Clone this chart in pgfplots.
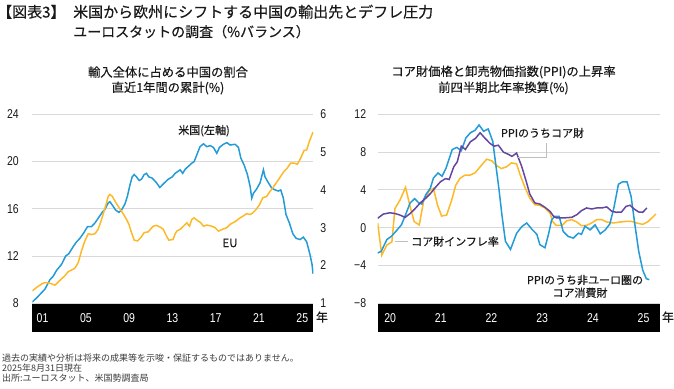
\documentclass[border=0pt]{standalone}
\usepackage{fontspec}
\usepackage{pgfplots}
\pgfplotsset{compat=1.18}
\setmainfont{Liberation Sans}
\newfontfamily\jp{Noto Sans CJK JP}
\newfontfamily\jpm[FakeBold=0.3]{Noto Sans CJK JP}
\newfontfamily\narrow[FakeStretch=0.82]{Liberation Sans}
\definecolor{cblue}{RGB}{35,155,215}
\definecolor{corange}{RGB}{252,185,40}
\definecolor{cpurple}{RGB}{100,70,160}
\definecolor{gridc}{RGB}{217,217,217}
\definecolor{leadc}{RGB}{190,190,190}
\definecolor{txt}{RGB}{25,25,25}
\pgfplotsset{
  myax/.style={
    scale only axis, anchor=south west, height=189pt,
    axis line style={draw=none}, tick style={draw=none},
    ticklabel style={font=\narrow\fontsize{12.8}{13}\selectfont, text=txt},
    xticklabel style={text=white, anchor=center, yshift=-14.5pt},
  }
}
\begin{document}
\begin{tikzpicture}
\useasboundingbox (0pt,0pt) rectangle (674pt,388pt);
\fill[black] (32.3pt,84.7pt) rectangle (313.3pt,56.3pt);
\fill[black] (377.7pt,84.7pt) rectangle (660pt,56.3pt);

% ---------------- left chart: US (left axis)
\begin{axis}[myax, at={(32.3pt,84.7pt)}, width=281pt,
  xmin=2000, xmax=2025.97, ymin=8, ymax=24,
  ytick={8,12,16,20,24}, yticklabels={8,12,16,20,24},
  xtick={2000.95,2004.95,2008.95,2012.95,2016.95,2020.95,2024.95},
  xticklabels={01,05,09,13,17,21,25},
  tick pos=left, ymajorgrids, grid style={line width=0.9pt, gridc},
  yticklabel style={anchor=east, xshift=-10pt}]
\addplot[cblue, line width=1.5pt] coordinates {
(2000.0,8.1)(2000.55,8.6)(2001.17,9.2)(2001.63,10.0)(2001.94,10.3)(2002.25,10.8)(2002.71,11.3)
(2003.08,12.0)(2003.38,12.2)(2003.78,12.8)(2004.09,13.2)(2004.40,13.5)(2004.71,13.9)(2005.11,14.5)
(2005.48,14.5)(2005.79,14.8)(2006.09,15.2)(2006.46,15.7)(2006.71,15.95)(2007.02,16.5)(2007.17,16.6)
(2007.48,16.2)(2007.69,15.9)(2008.00,15.7)(2008.25,15.9)(2008.56,16.4)(2008.80,17.1)(2009.02,18.0)
(2009.23,18.7)(2009.42,18.9)(2009.63,18.7)(2009.88,18.4)(2010.09,18.5)(2010.34,18.9)(2010.55,19.0)
(2010.77,18.7)(2011.08,18.6)(2011.48,18.2)(2011.79,17.8)(2012.10,18.1)(2012.56,18.5)(2012.93,18.7)
(2013.2,19.0)(2013.67,19.3)(2013.9,19.0)(2014.13,19.35)(2014.43,19.6)(2014.74,19.86)(2014.96,20.0)
(2015.2,20.56)(2015.5,21.26)(2015.82,21.5)(2016.13,21.26)(2016.44,21.35)(2016.74,21.2)(2017.05,20.7)
(2017.3,21.2)(2017.66,21.46)(2017.98,21.6)(2018.28,21.4)(2018.74,21.46)(2019.05,21.2)(2019.27,20.3)
(2019.58,19.7)(2019.88,18.9)(2020.13,17.9)(2020.28,16.9)(2020.43,17.3)(2020.75,17.7)(2021.05,18.2)
(2021.36,19.3)(2021.51,18.7)(2021.82,18.2)(2022.13,17.75)(2022.44,17.6)(2022.74,17.5)(2022.96,17.6)
(2023.2,16.9)(2023.45,15.5)(2023.76,14.8)(2024.07,13.9)(2024.38,13.5)(2024.75,13.4)(2025.05,13.6)
(2025.36,13.2)(2025.67,12.1)(2025.85,11.3)(2025.95,10.5)
};
\end{axis}

% ---------------- left chart: EU (right axis)
\begin{axis}[myax, at={(32.3pt,84.7pt)}, width=281pt,
  xmin=2000, xmax=2025.97, ymin=1, ymax=6,
  ytick={1,2,3,4,5,6}, yticklabels={1,2,3,4,5,6},
  hide x axis, ytick pos=right,
  yticklabel style={anchor=west, xshift=3.5pt}]
\addplot[corange, line width=1.5pt] coordinates {
(2000.0,1.33)(2000.4,1.42)(2000.86,1.51)(2001.17,1.55)(2001.63,1.53)(2002.1,1.48)(2002.56,1.61)
(2003.02,1.73)(2003.33,1.84)(2003.63,1.88)(2003.94,1.93)(2004.25,2.08)(2004.55,2.39)(2004.86,2.65)
(2005.17,2.84)(2005.48,2.82)(2005.79,2.84)(2006.09,2.96)(2006.4,3.22)(2006.77,3.57)(2007.02,3.83)
(2007.17,3.88)(2007.39,3.83)(2007.69,3.68)(2008.0,3.54)(2008.4,3.37)(2008.71,3.22)(2008.93,3.09)
(2009.17,2.87)(2009.42,2.67)(2009.72,2.65)(2010.03,2.74)(2010.34,2.87)(2010.71,2.89)(2011.17,3.04)
(2011.48,3.06)(2011.79,3.02)(2012.1,2.96)(2012.4,2.78)(2012.62,2.67)(2013.02,2.69)(2013.2,2.84)
(2013.36,2.91)(2013.67,2.96)(2013.97,3.04)(2014.28,3.13)(2014.53,3.04)(2014.74,3.22)(2014.96,3.26)
(2015.26,3.19)(2015.57,3.13)(2015.82,3.04)(2016.13,3.07)(2016.59,3.04)(2016.9,3.0)(2017.2,2.91)
(2017.6,2.96)(2017.98,3.0)(2018.28,3.09)(2018.74,3.16)(2019.2,3.26)(2019.5,3.31)(2019.8,3.37)
(2020.13,3.35)(2020.37,3.39)(2020.68,3.48)(2021.0,3.61)(2021.3,3.79)(2021.67,3.83)(2021.97,3.96)
(2022.34,4.10)(2022.65,4.23)(2022.96,4.36)(2023.26,4.49)(2023.57,4.58)(2023.88,4.71)(2024.19,4.71)
(2024.5,4.68)(2024.8,4.84)(2025.11,5.04)(2025.36,5.06)(2025.6,5.28)(2025.82,5.44)(2025.95,5.53)
};
\end{axis}

% ---------------- right chart
\begin{axis}[myax, at={(377.7pt,84.7pt)}, width=282.3pt,
  xmin=2020, xmax=2025.57, ymin=-8, ymax=12,
  ytick={-8,-4,0,4,8,12}, yticklabels={−8,−4,0,4,8,12},
  xtick={2020.245,2021.245,2022.245,2023.245,2024.245,2025.245},
  xticklabels={20,21,22,23,24,25},
  tick pos=left, ymajorgrids, grid style={line width=0.9pt, gridc},
  yticklabel style={anchor=east, xshift=-8pt}]
\addplot[corange, line width=1.5pt] coordinates {
(2020.00,0.47)(2020.08,-2.9)(2020.18,-1.84)(2020.28,-1.5)(2020.34,2.03)(2020.44,2.92)(2020.55,4.27)
(2020.64,2.22)(2020.72,0.64)(2020.82,0.29)(2020.91,2.92)(2021.02,3.91)(2021.10,4.16)(2021.18,2.4)
(2021.26,1.23)(2021.36,1.34)(2021.46,2.92)(2021.54,4.5)(2021.62,5.2)(2021.72,5.56)(2021.82,5.56)
(2021.92,5.8)(2022.02,6.44)(2022.15,7.25)(2022.25,7.08)(2022.34,6.6)(2022.44,6.26)(2022.54,6.44)
(2022.64,6.86)(2022.74,6.75)(2022.81,5.6)(2022.91,4.2)(2023.00,3.14)(2023.10,2.43)(2023.20,2.36)
(2023.30,2.09)(2023.40,1.55)(2023.45,0.67)(2023.52,0.25)(2023.64,0.25)(2023.73,0.74)(2023.83,0.85)
(2023.93,0.6)(2024.02,0.21)(2024.12,0.25)(2024.22,0.49)(2024.32,0.85)(2024.42,0.85)(2024.52,0.6)
(2024.65,0.5)(2024.78,0.6)(2024.91,0.67)(2025.01,0.67)(2025.11,0.5)(2025.23,0.35)(2025.34,0.67)
(2025.49,1.45)
};
\addplot[cblue, line width=1.5pt] coordinates {
(2020.00,-2.67)(2020.07,-2.5)(2020.18,-1.26)(2020.27,-0.91)(2020.36,-0.38)(2020.47,0.32)(2020.55,1.38)
(2020.64,2.62)(2020.73,3.08)(2020.81,2.62)(2020.87,2.51)(2020.95,3.5)(2021.04,4.2)(2021.10,5.26)
(2021.19,5.79)(2021.27,5.44)(2021.35,6.32)(2021.47,8.26)(2021.56,8.5)(2021.65,8.15)(2021.74,9.5)
(2021.83,10.05)(2021.92,10.3)(2022.00,10.87)(2022.09,10.2)(2022.18,10.45)(2022.27,9.14)(2022.33,6.67)
(2022.39,4.2)(2022.45,1.38)(2022.52,-1.44)(2022.62,-2.3)(2022.74,-0.6)(2022.84,0.1)(2022.94,0.5)
(2023.04,-0.15)(2023.14,-0.7)(2023.20,-1.8)(2023.30,-2.12)(2023.37,-0.7)(2023.43,0.8)(2023.49,1.2)
(2023.58,1.2)(2023.66,-0.4)(2023.76,-0.93)(2023.86,-1.1)(2023.96,-0.58)(2024.02,-0.7)(2024.09,0.16)
(2024.19,-0.23)(2024.29,0.3)(2024.39,-0.65)(2024.49,-0.23)(2024.58,0.4)(2024.66,2.1)(2024.75,4.6)
(2024.83,4.85)(2024.92,4.85)(2025.00,3.3)(2025.07,0.5)(2025.15,-2.5)(2025.23,-4.5)(2025.30,-5.4)
(2025.36,-5.5)
};
\addplot[cpurple, line width=1.5pt] coordinates {
(2020.00,1.0)(2020.11,1.44)(2020.24,1.58)(2020.34,1.5)(2020.44,1.34)(2020.54,1.09)(2020.64,1.5)
(2020.74,2.03)(2020.84,2.63)(2020.94,3.08)(2021.04,3.61)(2021.14,4.27)(2021.24,4.87)(2021.34,5.2)
(2021.41,5.1)(2021.50,6.44)(2021.57,6.97)(2021.65,8.63)(2021.73,8.28)(2021.83,9.1)(2021.93,9.45)
(2022.02,10.05)(2022.12,9.45)(2022.22,8.9)(2022.30,8.63)(2022.38,8.73)(2022.48,8.0)(2022.58,7.76)
(2022.65,7.55)(2022.74,7.9)(2022.84,6.5)(2022.93,4.91)(2023.00,3.57)(2023.10,2.62)(2023.20,2.5)
(2023.30,2.16)(2023.40,1.73)(2023.47,1.2)(2023.53,1.03)(2023.66,1.03)(2023.83,1.1)(2023.93,1.38)
(2024.02,1.8)(2024.12,2.09)(2024.22,1.98)(2024.32,2.09)(2024.42,2.09)(2024.52,2.2)(2024.62,1.73)
(2024.71,1.63)(2024.81,1.66)(2024.90,2.26)(2024.98,2.37)(2025.06,1.98)(2025.15,1.66)(2025.23,1.63)
(2025.31,2.09)
};
\end{axis}

% ---------------- text
\tikzset{tl/.style={text=txt, inner sep=0, text height=11pt, text depth=3pt}}
\node[tl, anchor=west] at (-3pt,374.5pt) {\jpm\fontsize{15}{15}\selectfont 【図表3】};
\node[tl, anchor=west] at (73pt,374.5pt) {\jpm\fontsize{15}{15}\selectfont 米国から欧州にシフトする中国の輸出先とデフレ圧力};
\node[tl, anchor=west] at (73pt,355pt) {\jpm\fontsize{14}{14}\selectfont ユーロスタットの調査（\%バランス）};

\node[text=txt, inner sep=0] at (168pt,316pt) {\jpm\fontsize{12.3}{12.3}\selectfont 輸入全体に占める中国の割合};
\node[text=txt, inner sep=0] at (168pt,300pt) {\jpm\fontsize{12.3}{12.3}\selectfont 直近1年間の累計(\%)};
\node[text=txt, inner sep=0] at (503.5pt,316pt) {\jpm\fontsize{12.3}{12.3}\selectfont コア財価格と卸売物価指数(PPI)の上昇率};
\node[text=txt, inner sep=0] at (503.5pt,300pt) {\jpm\fontsize{12.3}{12.3}\selectfont 前四半期比年率換算(\%)};

\node[text=txt, inner sep=0] at (204pt,257.3pt) {\jpm\fontsize{11}{11}\selectfont 米国(左軸)};
\node[text=txt, inner sep=0] at (230pt,145pt) {\jpm\fontsize{11.5}{11.5}\selectfont EU};

\draw[leadc, line width=1pt] (518pt,230pt) -- (546pt,230pt) -- (546pt,245pt);
\node[text=txt, inner sep=0] at (542.5pt,255pt) {\jpm\fontsize{11}{11}\selectfont PPIのうちコア財};
\draw[leadc, line width=1pt] (395pt,146.5pt) -- (408pt,146.5pt);
\node[anchor=west, text=txt, inner sep=0] at (411pt,146.5pt) {\jpm\fontsize{11}{11}\selectfont コア財インフレ率};
\node[text=txt, inner sep=0] at (585pt,108pt) {\jpm\fontsize{11}{11}\selectfont PPIのうち非ユーロ圏の};
\node[text=txt, inner sep=0] at (580pt,95.3pt) {\jpm\fontsize{11}{11}\selectfont コア消費財};

\node[text=txt, inner sep=0] at (322pt,71pt) {\jpm\fontsize{12}{12}\selectfont 年};
\node[text=txt, inner sep=0] at (668pt,71pt) {\jpm\fontsize{12}{12}\selectfont 年};

\node[anchor=west, text=txt!85, inner sep=0] at (2pt,30pt) {\jp\fontsize{9}{9}\selectfont 過去の実績や分析は将来の成果等を示唆・保証するものではありません。};
\node[anchor=west, text=txt!85, inner sep=0] at (2pt,20pt) {\jp\fontsize{9}{9}\selectfont 2025年8月31日現在};
\node[anchor=west, text=txt!85, inner sep=0] at (2pt,10pt) {\jp\fontsize{9}{9}\selectfont 出所:ユーロスタット、米国勢調査局};
\end{tikzpicture}
\end{document}
